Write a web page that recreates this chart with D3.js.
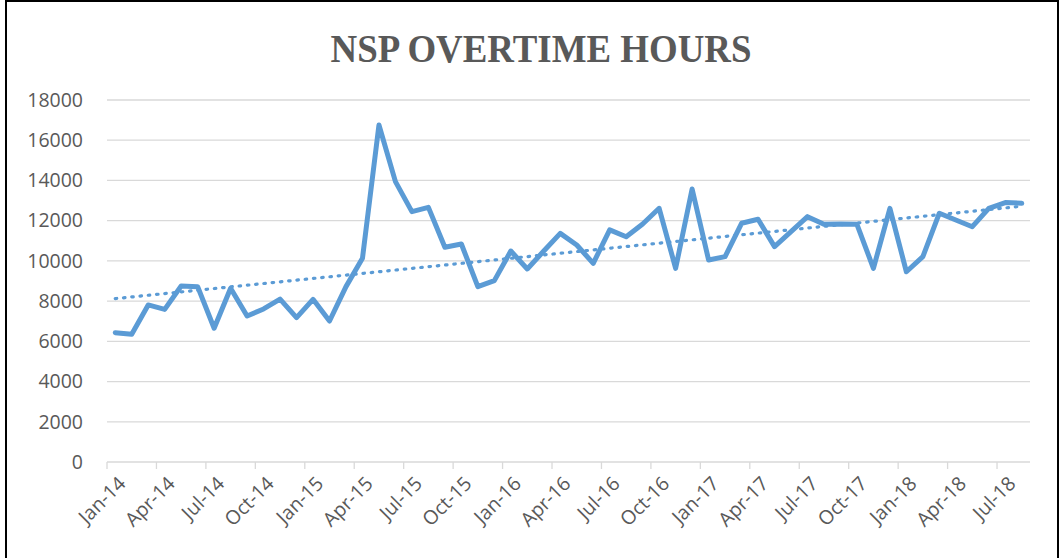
<!DOCTYPE html>
<html><head><meta charset="utf-8">
<script src="https://cdn.jsdelivr.net/npm/d3@7"></script>
<style>body{margin:0;background:#fff}svg{display:block}</style>
</head><body>
<svg id="c" width="1063" height="558"></svg>
<script>
const title = "NSP OVERTIME HOURS";
const startMonth = "2014-01";
const values = [6430,6350,7810,7590,8750,8720,6650,8640,7260,7610,8100,7180,
  8090,7010,8720,10130,16760,13940,12450,12660,10680,10840,8720,9020,
  10490,9600,10490,11370,10790,9880,11540,11200,11835,12615,9630,13575,
  10045,10210,11870,12070,10710,11450,12200,11820,11835,11820,9630,12615,
  9460,10210,12370,12030,11700,12615,12900,12865];
const yTicks = [0,2000,4000,6000,8000,10000,12000,14000,16000,18000];
const tickEvery = 3;

const fmt = d3.timeFormat("%b-%y");
const parse = d3.timeParse("%Y-%m");
const t0 = parse(startMonth);
const months = values.map((v,i)=>d3.timeMonth.offset(t0,i));

const svg = d3.select("#c");
const L=107, R=1030, T=100, B=462;
const x = d3.scaleBand().domain(d3.range(values.length)).range([L,R]).paddingInner(0).paddingOuter(0);
const y = d3.scaleLinear().domain([0,18000]).range([B,T]);
const cx = i => x(i)+x.bandwidth()/2;

// frame
svg.append("rect").attr("x",6).attr("y",1).attr("width",1052).attr("height",560)
  .attr("fill","none").attr("stroke","#000").attr("stroke-width",2);

// title
svg.append("text").attr("x",541).attr("y",62).attr("text-anchor","middle")
  .attr("font-family","'Liberation Serif','DejaVu Serif',serif").attr("font-weight","bold")
  .attr("font-size",40).attr("fill","#595959")
  .attr("textLength",421).attr("lengthAdjust","spacingAndGlyphs").text(title);

// gridlines
svg.append("g").selectAll("line").data(yTicks.filter(d=>d>0)).join("line")
  .attr("x1",L).attr("x2",R).attr("y1",d=>y(d)).attr("y2",d=>y(d))
  .attr("stroke","#d9d9d9").attr("stroke-width",1.3);

// y labels
svg.append("g").selectAll("text").data(yTicks).join("text")
  .attr("x",83).attr("y",d=>y(d)).attr("dy","0.35em").attr("text-anchor","end")
  .attr("font-family","'Open Sans','Liberation Sans',Arial,sans-serif").attr("font-size",19.5)
  .attr("fill","#595959").text(d=>d);

// x axis
const xa = svg.append("g");
xa.append("line").attr("x1",L).attr("x2",R).attr("y1",B).attr("y2",B)
  .attr("stroke","#d9d9d9").attr("stroke-width",1.3);
const tickIdx = d3.range(0, values.length, tickEvery);
xa.selectAll("line.t").data(tickIdx).join("line").attr("class","t")
  .attr("x1",i=>x(i)).attr("x2",i=>x(i)).attr("y1",B).attr("y2",B+7)
  .attr("stroke","#d9d9d9").attr("stroke-width",1.3);
xa.selectAll("text").data(tickIdx).join("text")
  .attr("transform",i=>`translate(${x(i)+10},${B+13}) rotate(-45)`)
  .attr("text-anchor","end").attr("dy","0.71em")
  .attr("font-family","'Open Sans','Liberation Sans',Arial,sans-serif").attr("font-size",19.5)
  .attr("fill","#595959").text(i=>fmt(months[i]));

// trendline (least squares)
const n=values.length, xs=d3.range(n);
const mx=d3.mean(xs), my=d3.mean(values);
const slope=d3.sum(xs,(i)=>(i-mx)*(values[i]-my))/d3.sum(xs,i=>(i-mx)*(i-mx));
const icpt=my-slope*mx;
svg.append("line").attr("x1",cx(0)).attr("x2",cx(n-1))
  .attr("y1",y(icpt)).attr("y2",y(icpt+slope*(n-1)))
  .attr("stroke","#5B9BD5").attr("stroke-width",3.2)
  .attr("stroke-dasharray","1.5,6.8").attr("stroke-linecap","round");

// data line
svg.append("path").datum(values)
  .attr("d",d3.line().x((d,i)=>cx(i)).y(d=>y(d)))
  .attr("fill","none").attr("stroke","#5B9BD5").attr("stroke-width",5)
  .attr("stroke-linejoin","round").attr("stroke-linecap","round");
</script>
</body></html>
